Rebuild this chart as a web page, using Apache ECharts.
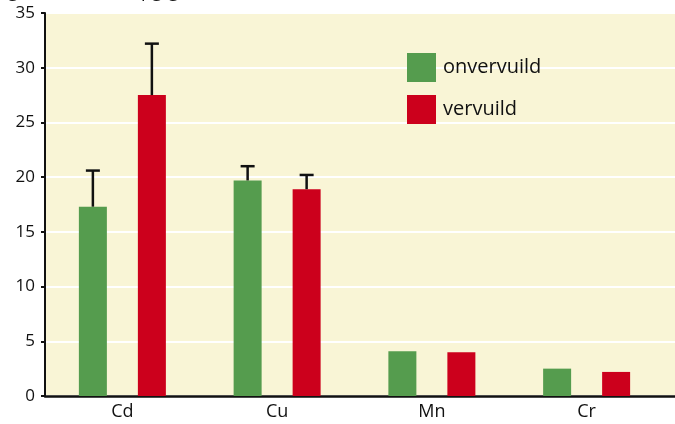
<!DOCTYPE html>
<html>
<head>
<meta charset="utf-8">
<script src="https://cdn.jsdelivr.net/npm/echarts@6/dist/echarts.min.js"></script>
<style>
  html, body { margin: 0; padding: 0; background: #ffffff; }
  #chart { width: 675px; height: 424px; }
</style>
</head>
<body>
<div id="chart"></div>
<script>
// Metal concentrations (µg/g) at clean and polluted sites
const categories = ['Cd', 'Cu', 'Mn', 'Cr'];
const seriesNames = ['onvervuild', 'vervuild'];
const cleanValues = [17.3, 19.7, 4.1, 2.5];
const pollutedValues = [27.5, 18.9, 4.0, 2.2];
// upper end of the error bar (mean + deviation); null = no error bar
const cleanUpper = [20.6, 21.0, null, null];
const pollutedUpper = [32.2, 20.2, null, null];
const yTicks = [0, 5, 10, 15, 20, 25, 30, 35];

const FONT = '"Open Sans", "Noto Sans", sans-serif';
const GREEN = '#559c4e';
const RED = '#cc001c';
const BG = '#f9f5d6';
const INK = '#111111';
const BAR_W = 28;
const BAR_GAP_PX = 31;

const TOP = 13, BOTTOM = 28, LEFT = 45;

function errorSeries(upper, means, side) {
  return {
    type: 'custom',
    name: 'err' + side,
    z: 5,
    data: upper.map((u, i) => [i, means[i], u]).filter(d => d[2] != null),
    renderItem: function (params, api) {
      const base = api.coord([api.value(0), api.value(1)]);
      const top = api.coord([api.value(0), api.value(2)]);
      const x = base[0] + side * (BAR_W + BAR_GAP_PX) / 2;
      const style = { stroke: INK, lineWidth: 2.5, fill: null };
      return {
        type: 'group',
        children: [
          { type: 'line', shape: { x1: x, y1: base[1], x2: x, y2: top[1] }, style },
          { type: 'line', shape: { x1: x - 7, y1: top[1], x2: x + 7, y2: top[1] }, style }
        ]
      };
    }
  };
}

const yRange = { min: yTicks[0], max: yTicks[yTicks.length - 1], interval: 5 };

const chart = echarts.init(document.getElementById('chart'), null, { renderer: 'canvas' });
chart.setOption({
  animation: false,
  backgroundColor: '#ffffff',
  textStyle: { fontFamily: FONT },
  grid: [
    // bars and category labels
    { left: LEFT, right: 11, top: TOP, bottom: BOTTOM },
    // full-width plot background, gridlines and baseline
    { left: LEFT, right: 0, top: TOP, bottom: BOTTOM, show: true, backgroundColor: BG, borderWidth: 0, z: -1 }
  ],
  graphic: [
    {
      type: 'text', left: 8, top: -17, silent: true,
      style: { text: 'gehalte in mos (µg/g)', font: '18px ' + FONT, fill: INK }
    }
  ],
  legend: {
    data: seriesNames,
    orient: 'vertical',
    left: 407,
    top: 53,
    padding: 0,
    itemWidth: 29,
    itemHeight: 29,
    itemGap: 13,
    icon: 'rect',
    textStyle: { fontFamily: FONT, fontSize: 20, color: INK, padding: [0, 0, 0, 2] }
  },
  xAxis: [
    {
      type: 'category',
      gridIndex: 0,
      data: categories,
      axisLine: { show: false },
      axisTick: { show: false },
      axisLabel: { fontFamily: FONT, fontSize: 18, color: INK, margin: 7 },
      splitLine: { show: false }
    },
    {
      type: 'value',
      gridIndex: 1,
      min: 0, max: 1,
      axisLine: { show: true, onZero: false, lineStyle: { color: INK, width: 2.5 } },
      axisTick: { show: false },
      axisLabel: { show: false },
      splitLine: { show: false }
    }
  ],
  yAxis: [
    {
      type: 'value',
      gridIndex: 0,
      ...yRange,
      axisLine: { show: true, lineStyle: { color: INK, width: 2 } },
      axisTick: { show: true, length: 4, lineStyle: { color: INK, width: 2 } },
      axisLabel: { fontFamily: FONT, fontSize: 17, color: INK, margin: 10 },
      splitLine: { show: false }
    },
    {
      type: 'value',
      gridIndex: 1,
      ...yRange,
      axisLine: { show: false },
      axisTick: { show: false },
      axisLabel: { show: false },
      splitLine: { show: true, lineStyle: { color: '#ffffff', width: 2 } }
    }
  ],
  series: [
    {
      name: seriesNames[0], type: 'bar', data: cleanValues,
      barWidth: BAR_W, barGap: (BAR_GAP_PX / BAR_W * 100) + '%',
      itemStyle: { color: GREEN }, z: 3
    },
    {
      name: seriesNames[1], type: 'bar', data: pollutedValues,
      barWidth: BAR_W,
      itemStyle: { color: RED }, z: 3
    },
    errorSeries(cleanUpper, cleanValues, -1),
    errorSeries(pollutedUpper, pollutedValues, 1)
  ]
});
</script>
</body>
</html>
